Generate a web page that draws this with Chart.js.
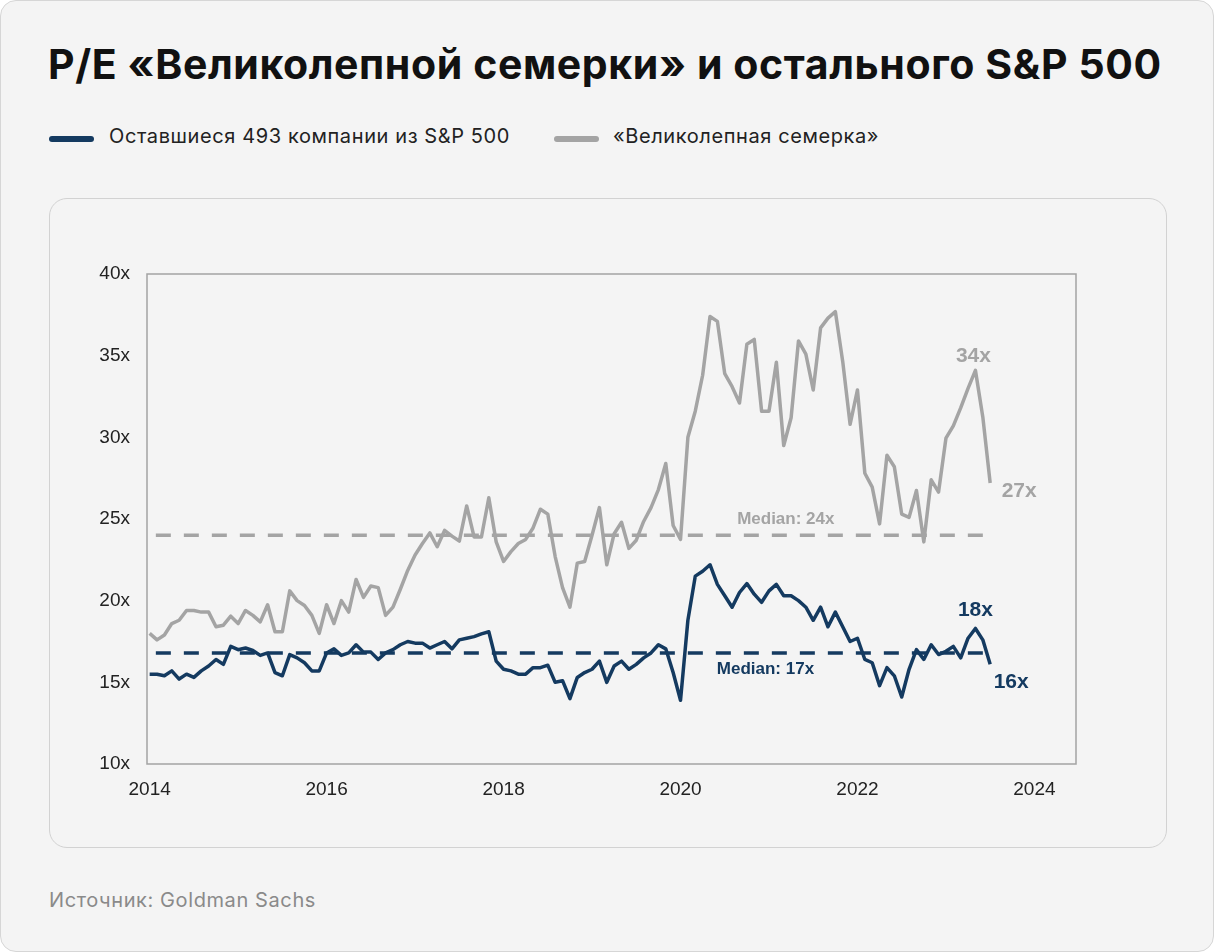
<!DOCTYPE html>
<html lang="ru">
<head>
<meta charset="utf-8">
<script src="https://cdn.jsdelivr.net/npm/chart.js@4"></script>
<style>
  html, body { margin: 0; padding: 0; background: #ffffff; }
  .card {
    position: absolute; left: 0; top: 0; width: 1212px; height: 950px;
    border: 1px solid #d6d6d6; border-radius: 16px; background: #f4f4f4;
    font-family: Inter, "Noto Sans", sans-serif;
  }
  h1 {
    position: absolute; left: 47px; top: 38px; margin: 0;
    font-size: 41px; font-weight: 700; color: #111; letter-spacing: 0.6px;
  }
  .legend { position: absolute; top: 123px; left: 48px; font-size: 20px; color: #222; letter-spacing: 0.6px; }
  .legend span.item { position: absolute; white-space: nowrap; top: 0; }
  .legend i { position: absolute; top: 12px; width: 45px; height: 6px; border-radius: 3px; }
  .box {
    position: absolute; left: 48px; top: 197px; width: 1116px; height: 648px;
    border: 1px solid #d2d2d2; border-radius: 18px;
  }
  .src { position: absolute; left: 48px; top: 887px; font-size: 20px; color: #8a8a8a; letter-spacing: 0.6px; }
</style>
</head>
<body>
<div class="card">
  <h1>P/E «Великолепной семерки» и остального S&amp;P 500</h1>
  <div class="legend">
    <span class="item" style="left:0"><i style="left:0;background:#143a60"></i><span style="margin-left:60px">Оставшиеся 493 компании из S&amp;P 500</span></span>
    <span class="item" style="left:505px"><i style="left:0;background:#a4a4a4"></i><span style="margin-left:59px">«Великолепная семерка»</span></span>
  </div>
  <div class="box"><canvas id="grafico" width="1116" height="648"></canvas></div>
  <div class="src">Источник: Goldman Sachs</div>
</div>
<script>
// monthly P/E, Jan 2014 .. Jul 2023
const startYear = 2014;
const mag7 = [
  18.0, 17.6, 17.9, 18.6, 18.8, 19.4, 19.4, 19.3, 19.3, 18.4, 18.5, 19.05,
  18.6, 19.4, 19.1, 18.7, 19.75, 18.1, 18.1, 20.6, 20.0, 19.7, 19.1, 18.0,
  19.75, 18.6, 20.0, 19.3, 21.3, 20.2, 20.9, 20.8, 19.1, 19.6, 20.7, 21.85,
  22.8, 23.5, 24.15, 23.3, 24.3, 23.95, 23.65, 25.8, 23.9, 23.9, 26.3, 23.6,
  22.4, 23.0, 23.5, 23.75, 24.45, 25.6, 25.3, 22.7, 20.8, 19.6, 22.3, 22.4,
  24.0, 25.7, 22.2, 24.1, 24.8, 23.2, 23.7, 24.85, 25.7, 26.8, 28.4, 24.6,
  23.75, 30.0, 31.6, 33.8, 37.4, 37.1, 33.9, 33.1, 32.1, 35.7, 36.0, 31.6,
  31.6, 34.6, 29.5, 31.2, 35.9, 35.1, 32.9, 36.7, 37.3, 37.7, 34.65, 30.8,
  32.9, 27.8, 26.95, 24.7, 28.9, 28.2, 25.3, 25.1, 26.75, 23.6, 27.4, 26.65,
  29.95, 30.7, 31.8, 33.0, 34.1, 31.25, 27.2
];
const rest493 = [
  15.5, 15.5, 15.4, 15.7, 15.2, 15.5, 15.3, 15.7, 16.0, 16.4, 16.1, 17.2,
  17.0, 17.1, 16.95, 16.65, 16.8, 15.6, 15.4, 16.7, 16.5, 16.2, 15.7, 15.7,
  16.8, 17.05, 16.65, 16.8, 17.3, 16.85, 16.85, 16.4, 16.8, 17.0, 17.3, 17.5,
  17.4, 17.4, 17.1, 17.3, 17.5, 17.05, 17.6, 17.7, 17.8, 17.97, 18.1, 16.3,
  15.8, 15.7, 15.5, 15.5, 15.9, 15.9, 16.05, 15.0, 15.1, 14.0, 15.3, 15.6,
  15.8, 16.3, 15.0, 16.0, 16.3, 15.8, 16.1, 16.5, 16.8, 17.3, 17.05, 15.6,
  13.9, 18.8, 21.5, 21.8, 22.2, 21.0, 20.3, 19.6, 20.5, 21.05, 20.4, 19.9,
  20.6, 21.0, 20.3, 20.3, 20.0, 19.6, 18.8, 19.6, 18.4, 19.3, 18.4, 17.5,
  17.7, 16.4, 16.2, 14.8, 15.9, 15.4, 14.1, 15.8, 17.0, 16.4, 17.3, 16.7,
  16.9, 17.2, 16.5, 17.7, 18.3, 17.6, 16.1
];
const medianMag7 = 24.0;
const medianRest = 16.8;
const medianSpan = [2014.07, 2023.5];
const yearTicks = [2014, 2016, 2018, 2020, 2022, 2024];
const seriesNames = ['Оставшиеся 493 компании из S&P 500', '«Великолепная семерка»'];

const BLUE = '#143a60';
const GRAY = '#a4a4a4';

const toPoints = arr => arr.map((v, i) => ({ x: startYear + i / 12, y: v }));
const flat = v => medianSpan.map(x => ({ x: x, y: v }));

// text labels: [text, dataset index, point index, dx, dy, color, font]
const notes = [
  ['34x', 1, 112, -2, -14, GRAY, 'bold 21px "Liberation Sans", Arial'],
  ['27x', 1, 114, 29, 8, GRAY, 'bold 21px "Liberation Sans", Arial'],
  ['18x', 0, 112, 0, -18, BLUE, 'bold 21px "Liberation Sans", Arial'],
  ['16x', 0, 114, 21, 18, BLUE, 'bold 21px "Liberation Sans", Arial']
];
const medianNotes = [
  ['Median: 24x', medianMag7, 2021.19, -16, GRAY],
  ['Median: 17x', medianRest, 2020.96, 16, BLUE]
];

const extras = {
  id: 'extras',
  afterDraw(chart) {
    const { ctx, chartArea: a, scales } = chart;
    ctx.save();
    ctx.strokeStyle = '#a3a3a3';
    ctx.lineWidth = 1.5;
    ctx.strokeRect(a.left, a.top, a.right - a.left, a.bottom - a.top);
    ctx.textAlign = 'center';
    ctx.textBaseline = 'middle';
    notes.forEach(n => {
      const p = chart.getDatasetMeta(n[1]).data[n[2]];
      ctx.fillStyle = n[5];
      ctx.font = n[6];
      ctx.fillText(n[0], p.x + n[3], p.y + n[4]);
    });
    ctx.font = 'bold 17px "Liberation Sans", Arial';
    medianNotes.forEach(n => {
      ctx.fillStyle = n[4];
      ctx.fillText(n[0], scales.x.getPixelForValue(n[2]), scales.y.getPixelForValue(n[1]) + n[3]);
    });
    ctx.restore();
  }
};

const ctx = document.getElementById('grafico').getContext('2d');
new Chart(ctx, {
  type: 'line',
  data: {
    datasets: [
      { label: seriesNames[0], data: toPoints(rest493), borderColor: BLUE, borderWidth: 3.5 },
      { label: seriesNames[1], data: toPoints(mag7), borderColor: GRAY, borderWidth: 3.5 },
      { label: 'median rest', data: flat(medianRest), borderColor: BLUE, borderWidth: 3.5, borderDash: [15, 13] },
      { label: 'median mag7', data: flat(medianMag7), borderColor: GRAY, borderWidth: 3.5, borderDash: [15, 13] }
    ]
  },
  options: {
    responsive: false,
    animation: false,
    clip: false,
    elements: { point: { radius: 0 }, line: { tension: 0, borderJoinStyle: 'round' } },
    layout: { padding: { top: 75, right: 90, bottom: 23, left: 0 } },
    plugins: { legend: { display: false }, tooltip: { enabled: false } },
    scales: {
      x: {
        type: 'linear',
        min: 2013.97,
        max: 2024.47,
        grid: { display: false, drawTicks: false },
        border: { display: false },
        afterBuildTicks: s => { s.ticks = yearTicks.map(v => ({ value: v })); },
        afterFit: s => { s.height = 60; },
        ticks: {
          padding: 14,
          maxRotation: 0,
          color: '#222',
          font: { family: '"Liberation Sans", Arial', size: 19 },
          callback: v => String(v)
        }
      },
      y: {
        min: 10,
        max: 40,
        grid: { display: false, drawTicks: false },
        border: { display: false },
        afterFit: s => { s.width = 97; },
        ticks: {
          stepSize: 5,
          padding: 17,
          color: '#222',
          font: { family: '"Liberation Sans", Arial', size: 19 },
          callback: v => v + 'x'
        }
      }
    }
  },
  plugins: [extras]
});
</script>
</body>
</html>
